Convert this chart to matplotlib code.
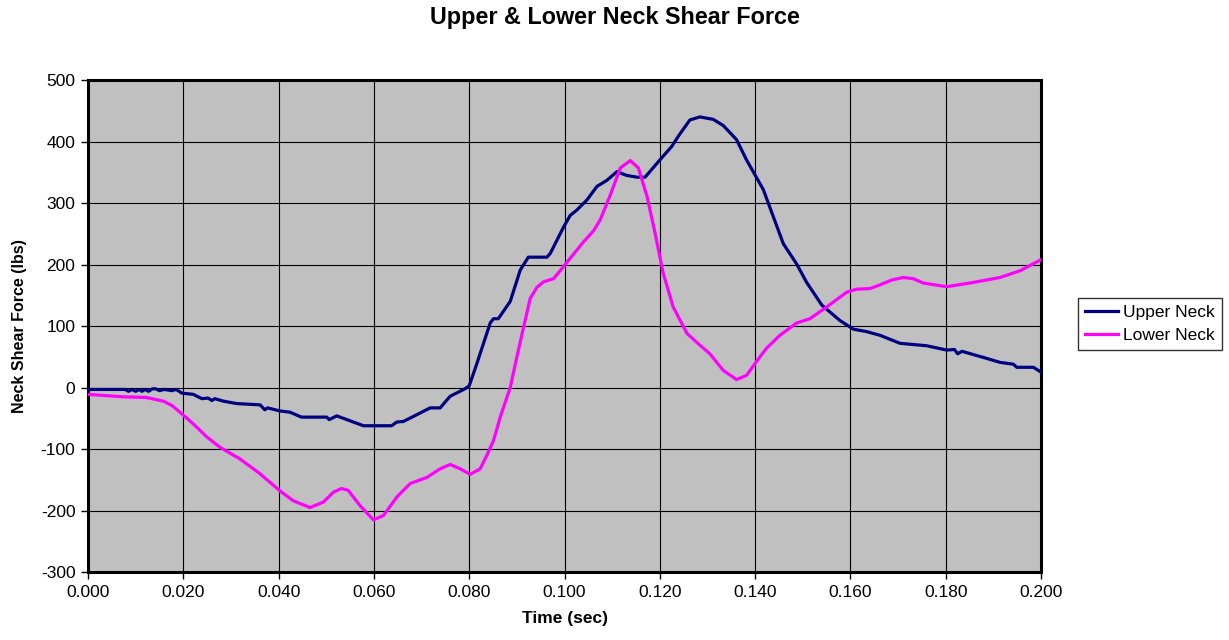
import matplotlib.pyplot as plt
from matplotlib.ticker import MultipleLocator, FormatStrFormatter

plt.rcParams['font.family'] = ['Liberation Sans', 'DejaVu Sans']
plt.rcParams['axes.unicode_minus'] = False

# values
upper_t = [0.000, 0.0078, 0.0085, 0.0092, 0.0100, 0.0108, 0.0113, 0.0120, 0.0127, 0.0135,
           0.0142, 0.0150, 0.0160, 0.0176, 0.0185, 0.0197, 0.0221, 0.0239, 0.0252, 0.0260,
           0.0266, 0.0284, 0.0312, 0.0361, 0.0371, 0.0377, 0.0403, 0.0424, 0.0448, 0.0501,
           0.0506, 0.0522, 0.0543, 0.0578, 0.0637, 0.0648, 0.0662, 0.0718, 0.0739, 0.0760,
           0.0791, 0.0800, 0.0816, 0.0844, 0.0851, 0.0861, 0.0886, 0.0907, 0.0924, 0.0963,
           0.0970, 0.0998, 0.1012, 0.1025, 0.1047, 0.1068, 0.1089, 0.1110, 0.1130, 0.1152,
           0.1169, 0.1200, 0.1225, 0.1240, 0.1263, 0.1284, 0.1312, 0.1333, 0.1361, 0.1382,
           0.1417, 0.1459, 0.1487, 0.1508, 0.1540, 0.1578, 0.1606, 0.1634, 0.1662, 0.1704,
           0.1760, 0.1802, 0.1818, 0.1825, 0.1834, 0.1879, 0.1914, 0.1942, 0.1949, 0.1984,
           0.2000]
upper_v = [-3, -3, -6, -3, -6, -3, -6, -3, -6, -2,
           -2, -5, -3, -5, -3, -9, -11, -18, -17, -21,
           -18, -22, -26, -28, -36, -33, -38, -40, -48, -48,
           -52, -46, -52, -62, -62, -56, -55, -33, -33, -14,
           -2, 3, 39, 105, 112, 112, 140, 191, 212, 212,
           218, 261, 280, 288, 305, 327, 337, 351, 345, 342,
           342, 370, 392, 410, 435, 440, 436, 426, 403, 370,
           322, 234, 201, 171, 134, 109, 95, 91, 85, 72,
           68, 61, 62, 55, 59, 49, 41, 38, 33, 33,
           25]

lower_t = [0.000, 0.0074, 0.0122, 0.0158, 0.0176, 0.0193, 0.0221, 0.0249, 0.0277, 0.0319,
           0.0361, 0.0403, 0.0431, 0.0466, 0.0494, 0.0515, 0.0532, 0.0546, 0.0571, 0.0599,
           0.0620, 0.0648, 0.0676, 0.0711, 0.0739, 0.0760, 0.0781, 0.0802, 0.0823, 0.0837,
           0.0851, 0.0865, 0.0886, 0.0900, 0.0914, 0.0928, 0.0942, 0.0956, 0.0977, 0.0998,
           0.1019, 0.1040, 0.1061, 0.1075, 0.1096, 0.1117, 0.1138, 0.1155, 0.1173, 0.1190,
           0.1207, 0.1228, 0.1257, 0.1284, 0.1305, 0.1333, 0.1361, 0.1382, 0.1410, 0.1424,
           0.1452, 0.1487, 0.1515, 0.1550, 0.1571, 0.1592, 0.1613, 0.1641, 0.1662, 0.1687,
           0.1711, 0.1732, 0.1753, 0.1802, 0.1858, 0.1914, 0.1956, 0.2000]
lower_v = [-11, -15, -16, -22, -29, -40, -59, -80, -97, -116,
           -140, -168, -184, -195, -186, -170, -164, -167, -192, -215,
           -208, -178, -156, -146, -132, -125, -132, -141, -132, -110,
           -86, -48, 0, 50, 98, 145, 163, 172, 177, 197,
           217, 237, 255, 273, 313, 357, 369, 357, 311, 251,
           186, 131, 88, 69, 55, 28, 13, 20, 50, 64,
           85, 105, 112, 131, 143, 155, 160, 161, 167, 175,
           179, 177, 170, 164, 171, 179, 190, 208]

fig = plt.figure(figsize=(12.29, 6.4), dpi=100)
ax = fig.add_axes([0.0716, 0.106, 0.7755, 0.769])
ax.set_facecolor('#C0C0C0')

ax.plot(upper_t, upper_v, color='#000080', lw=2.3, label='Upper Neck', zorder=3)
ax.plot(lower_t, lower_v, color='#FF00FF', lw=2.3, label='Lower Neck', zorder=3,
        solid_joinstyle='round')

ax.set_xlim(0, 0.2)
ax.set_ylim(-300, 500)
ax.xaxis.set_major_locator(MultipleLocator(0.02))
ax.yaxis.set_major_locator(MultipleLocator(100))
ax.xaxis.set_major_formatter(FormatStrFormatter('%.3f'))
ax.grid(True, color='black', lw=0.8)
ax.set_axisbelow(True)
for s in ax.spines.values():
    s.set_linewidth(2.2)
    s.set_color('black')
ax.tick_params(direction='out', length=5, width=1, labelsize=12.5, pad=4)

# chart title is centred on the whole figure, not on the plot area
fig.suptitle('Upper & Lower Neck Shear Force', x=0.5, y=0.972, va='center',
             fontsize=16.8, fontweight='bold')
ax.set_xlabel('Time (sec)', fontsize=12.5, fontweight='bold', labelpad=8)
ax.set_ylabel('Neck Shear Force (lbs)', fontsize=11.5, fontweight='bold', labelpad=10)

leg = fig.legend(loc='center left', bbox_to_anchor=(0.877, 0.494), fontsize=12.5,
                 frameon=True, fancybox=False, edgecolor='black', handlelength=1.9,
                 handletextpad=0.3, borderpad=0.4, labelspacing=0.45, borderaxespad=0)
leg.get_frame().set_linewidth(1)

fig.savefig('out.png', dpi=100)
